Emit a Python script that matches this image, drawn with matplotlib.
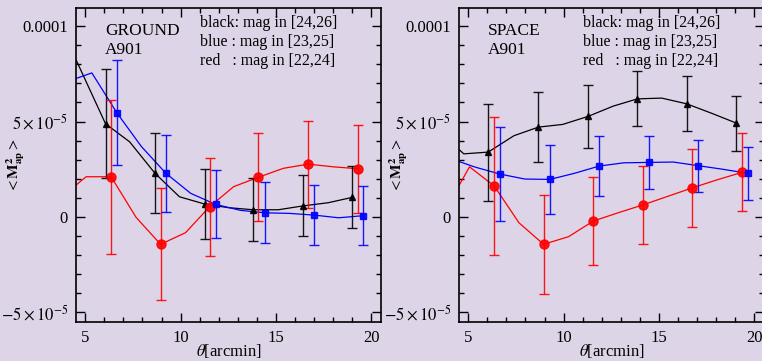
import numpy as np
import matplotlib
matplotlib.use("Agg")
import matplotlib.pyplot as plt
from matplotlib.ticker import FixedLocator, MultipleLocator

# values of <M_ap^2> are given in units of 1e-5
UNIT = 1e-5

# ---- GROUND panel ----
g_black_x = [6.07, 8.65, 11.26, 13.81, 16.40, 19.00]
g_black_y = [4.88, 2.30, 0.68, 0.38, 0.58, 1.03]
g_black_err = [2.86, 2.08, 1.83, 1.66, 1.60, 1.63]
g_black_line_x = [4.53, 6.07, 7.33, 8.65, 9.94, 11.26, 12.50, 13.81, 15.12, 16.40, 17.74, 19.00]
g_black_line_y = [8.22, 4.88, 3.94, 2.30, 1.06, 0.68, 0.49, 0.38, 0.38, 0.58, 0.75, 1.03]

g_blue_x = [6.66, 9.23, 11.84, 14.42, 17.00, 19.58]
g_blue_y = [5.46, 2.29, 0.66, 0.22, 0.10, 0.07]
g_blue_err = [2.75, 2.02, 1.78, 1.60, 1.57, 1.56]
g_blue_line_x = [4.53, 5.35, 6.66, 7.94, 9.23, 10.53, 11.84, 13.13, 14.42, 15.70, 17.00, 18.28, 19.58]
g_blue_line_y = [7.26, 7.55, 5.46, 3.70, 2.29, 1.24, 0.66, 0.35, 0.22, 0.19, 0.10, -0.04, 0.07]

g_red_x = [6.36, 8.95, 11.52, 14.07, 16.69, 19.28]
g_red_y = [2.11, -1.43, 0.54, 2.08, 2.77, 2.53]
g_red_err = [4.04, 2.93, 2.56, 2.31, 2.28, 2.30]
g_red_line_x = [4.53, 5.05, 6.36, 7.67, 8.95, 10.26, 11.52, 12.78, 14.07, 15.38, 16.69, 18.00, 19.28]
g_red_line_y = [1.68, 2.11, 2.11, -0.02, -1.43, -0.82, 0.54, 1.59, 2.08, 2.55, 2.77, 2.63, 2.53]

# ---- SPACE panel ----
s_black_x = [6.05, 8.68, 11.28, 13.87, 16.45, 19.05]
s_black_y = [3.40, 4.71, 5.27, 6.19, 5.93, 4.92]
s_black_err = [2.54, 1.85, 1.64, 1.44, 1.44, 1.44]
s_black_line_x = [4.54, 4.77, 6.05, 7.40, 8.68, 9.95, 11.28, 12.60, 13.87, 15.14, 16.45, 17.77, 19.05]
s_black_line_y = [3.52, 3.31, 3.40, 4.26, 4.71, 4.85, 5.27, 5.81, 6.19, 6.23, 5.93, 5.43, 4.92]

s_blue_x = [6.66, 9.28, 11.87, 14.45, 17.05, 19.65]
s_blue_y = [2.25, 1.97, 2.67, 2.86, 2.69, 2.29]
s_blue_err = [2.45, 1.80, 1.56, 1.40, 1.36, 1.38]
s_blue_line_x = [4.54, 5.35, 6.66, 7.97, 9.28, 10.57, 11.87, 13.16, 14.45, 15.75, 17.05, 18.35, 19.65]
s_blue_line_y = [2.90, 2.62, 2.25, 1.99, 1.97, 2.29, 2.67, 2.84, 2.86, 2.88, 2.69, 2.50, 2.29]

s_red_x = [6.37, 8.95, 11.56, 14.14, 16.75, 19.35]
s_red_y = [1.62, -1.43, -0.21, 0.63, 1.53, 2.34]
s_red_err = [3.60, 2.60, 2.31, 2.06, 2.03, 2.05]
s_red_line_x = [4.54, 5.07, 6.37, 7.66, 8.95, 10.26, 11.56, 12.85, 14.14, 15.45, 16.75, 18.05, 19.35]
s_red_line_y = [1.68, 2.63, 1.62, -0.30, -1.43, -1.03, -0.21, 0.22, 0.63, 1.08, 1.53, 1.95, 2.34]

legend_lines = ["black: mag in [24,26]", "blue : mag in [23,25]", "red   : mag in [22,24]"]
ytick_vals = [-5e-5, 0, 5e-5, 1e-4]
ytick_labels = [r"$-5\times10^{-5}$", "0", r"$5\times10^{-5}$", "0.0001"]

BG = "#ddd5e7"

plt.rcParams["font.family"] = "serif"
plt.rcParams["font.serif"] = ["Liberation Serif", "DejaVu Serif"]
plt.rcParams["mathtext.fontset"] = "stix"


def draw_series(ax, px, py, perr, lx, ly, color, marker, ms):
    """Smooth curve plus points with error bars."""
    ax.plot(lx, np.array(ly) * UNIT, color=color, lw=0.9, zorder=2)
    ax.errorbar(px, np.array(py) * UNIT, yerr=np.array(perr) * UNIT, fmt=marker,
                color=color, ms=ms, elinewidth=1.0, capsize=3.5, capthick=1.0,
                alpha=0.9, zorder=3)


def style_axes(ax, name):
    ax.set_facecolor(BG)
    ax.set_xlim(4.52, 20.5)
    ax.set_ylim(-5.5e-5, 1.095e-4)
    ax.xaxis.set_major_locator(FixedLocator([5, 10, 15, 20]))
    ax.xaxis.set_minor_locator(MultipleLocator(1))
    ax.yaxis.set_major_locator(FixedLocator(ytick_vals))
    ax.yaxis.set_minor_locator(MultipleLocator(1e-5))
    ax.set_yticklabels(ytick_labels)
    ax.tick_params(which="both", direction="in", top=True, right=True,
                   labelsize=12, width=1.0, colors="black")
    ax.tick_params(which="major", length=6.5, pad=6)
    ax.tick_params(which="minor", length=3.6)
    for sp in ax.spines.values():
        sp.set_linewidth(1.2)
    ax.set_xlabel(r"$\theta$[arcmin]", fontsize=12, labelpad=-3)
    ax.set_ylabel(r"$<\mathbf{M}^{\mathbf{2}}_{\mathbf{ap}}>$", fontsize=11)
    ax.yaxis.set_label_coords(-0.16, 0.5)
    ax.text(0.095, 0.927, name, transform=ax.transAxes, fontsize=12.5,
            ha="left", va="center")
    ax.text(0.095, 0.866, "A901", transform=ax.transAxes, fontsize=12.5,
            ha="left", va="center")
    for i, line in enumerate(legend_lines):
        ax.text(0.408, 0.951 - i * 0.06, line, transform=ax.transAxes,
                fontsize=11.5, ha="left", va="center")


fig = plt.figure(figsize=(7.62, 3.61), dpi=100, facecolor=BG)
ax1 = fig.add_axes([76 / 762, 39 / 361, 305 / 762, 314 / 361])
ax2 = fig.add_axes([459 / 762, 39 / 361, 305 / 762, 314 / 361])

draw_series(ax1, g_black_x, g_black_y, g_black_err, g_black_line_x, g_black_line_y, "black", "^", 5)
draw_series(ax1, g_red_x, g_red_y, g_red_err, g_red_line_x, g_red_line_y, "red", "o", 6.5)
draw_series(ax1, g_blue_x, g_blue_y, g_blue_err, g_blue_line_x, g_blue_line_y, "blue", "s", 5)
style_axes(ax1, "GROUND")

draw_series(ax2, s_black_x, s_black_y, s_black_err, s_black_line_x, s_black_line_y, "black", "^", 5)
draw_series(ax2, s_red_x, s_red_y, s_red_err, s_red_line_x, s_red_line_y, "red", "o", 6.5)
draw_series(ax2, s_blue_x, s_blue_y, s_blue_err, s_blue_line_x, s_blue_line_y, "blue", "s", 5)
style_axes(ax2, "SPACE")

fig.savefig("out.png", dpi=100, facecolor=BG)
